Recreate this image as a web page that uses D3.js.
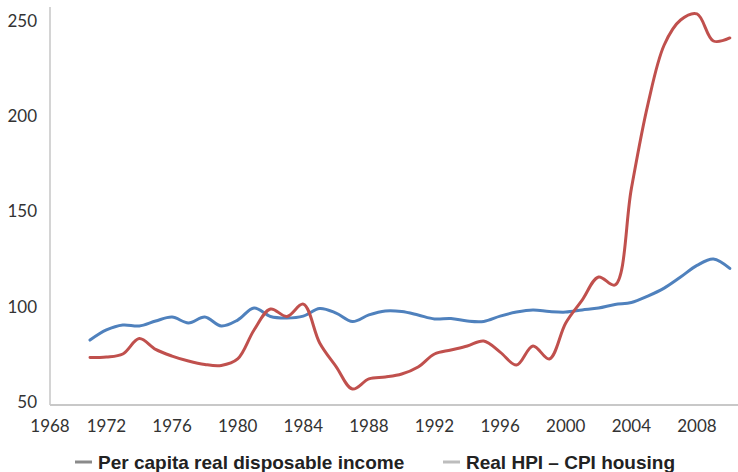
<!DOCTYPE html>
<html>
<head>
<meta charset="utf-8">
<script src="https://cdn.jsdelivr.net/npm/d3@7"></script>
<style>
  body { margin: 0; background: #fff; }
  .tick-label { font-family: Lato, "Liberation Sans", sans-serif; font-size: 17px; fill: #333; }
  .legend-label { font-family: "Liberation Sans Narrow", "Liberation Sans", sans-serif; font-weight: bold; font-size: 19px; fill: #222; }
</style>
</head>
<body>
<script>
// Data (index, 1971-2010)
const years = d3.range(1971, 2011);
const income = [82.5, 87.8, 90.4, 89.9, 92.5, 94.6, 91.5, 94.6, 89.9, 93.0,
    99.3, 94.9, 94.1, 95.1, 99.1, 96.7, 92.2, 95.7, 97.8, 97.5,
    95.7, 93.6, 93.8, 92.5, 92.3, 95.1, 97.2, 98.3, 97.5, 97.2,
    98.3, 99.3, 101.2, 102.2, 105.6, 109.8, 115.6, 121.7, 125.1, 120.1];
const housing = [73.3, 73.6, 75.2, 83.3, 77.6, 74.1, 71.5, 69.7, 69.2, 72.6,
    87.8, 98.8, 94.9, 101.4, 81.0, 68.6, 56.8, 62.1, 63.1, 64.7,
    68.4, 75.2, 77.3, 79.4, 82.0, 76.2, 69.4, 79.4, 72.6, 91.5,
    103.5, 115.6, 111.4, 162.0, 206.0, 237.4, 250.5, 253.7, 239.5, 241.1];
const yTicks = [50, 100, 150, 200, 250];
const xTicks = [1968, 1972, 1976, 1980, 1984, 1988, 1992, 1996, 2000, 2004, 2008];
const seriesNames = ["Per capita real disposable income", "Real HPI \u2013 CPI housing"];

const width = 738,
    height = 472;

const svg = d3.select('body').append('svg')
    .attr('width', width)
    .attr('height', height);

const x = d3.scaleLinear()
    .domain([1968.5, 2010.5])
    .range([49, 738]);

const y = d3.scaleLinear()
    .domain([50, 250])
    .range([402, 21]);

const plotTop = 7,
    plotBottom = 405,
    plotLeft = 50;

// axis lines
svg.append('line')
    .attr('x1', plotLeft).attr('x2', plotLeft)
    .attr('y1', plotTop).attr('y2', plotBottom)
    .attr('stroke', '#b8b8b8').attr('stroke-width', 1.2);

svg.append('line')
    .attr('x1', plotLeft).attr('x2', width)
    .attr('y1', plotBottom).attr('y2', plotBottom)
    .attr('stroke', '#c8c8c8').attr('stroke-width', 2);

// y tick labels
svg.selectAll('.ylab').data(yTicks).enter().append('text')
    .attr('class', 'tick-label')
    .attr('x', 37)
    .attr('y', d => y(d))
    .attr('dy', '0.35em')
    .attr('text-anchor', 'end')
    .text(d => d);

// x tick labels
svg.selectAll('.xlab').data(xTicks).enter().append('text')
    .attr('class', 'tick-label')
    .attr('x', d => Math.max(x(d), 50))
    .attr('y', 432)
    .attr('text-anchor', 'middle')
    .text(d => d);

// lines
const line = d3.line()
    .x((d, i) => x(years[i]))
    .y(d => y(d))
    .curve(d3.curveCatmullRom.alpha(0.5));

const colors = ['#4f81bd', '#c0504d'];

[income, housing].forEach((vals, k) => {
    svg.append('path')
        .datum(vals)
        .attr('fill', 'none')
        .attr('stroke', colors[k])
        .attr('stroke-width', 3)
        .attr('stroke-linejoin', 'round')
        .attr('stroke-linecap', 'round')
        .attr('d', line);
});

// legend (gray markers like the reference)
const legendX = [75, 443];
const legend = svg.selectAll('.legend').data(seriesNames).enter().append('g')
    .attr('transform', (d, i) => 'translate(' + legendX[i] + ',462)');

legend.append('line')
    .attr('x1', 0).attr('x2', 17)
    .attr('y1', 0).attr('y2', 0)
    .attr('stroke', (d, i) => i === 0 ? '#8a8a8a' : '#bdbdbd')
    .attr('stroke-width', 3);

legend.append('text')
    .attr('class', 'legend-label')
    .attr('x', 23)
    .attr('y', 0)
    .attr('dy', '0.35em')
    .text(d => d);
</script>
</body>
</html>
